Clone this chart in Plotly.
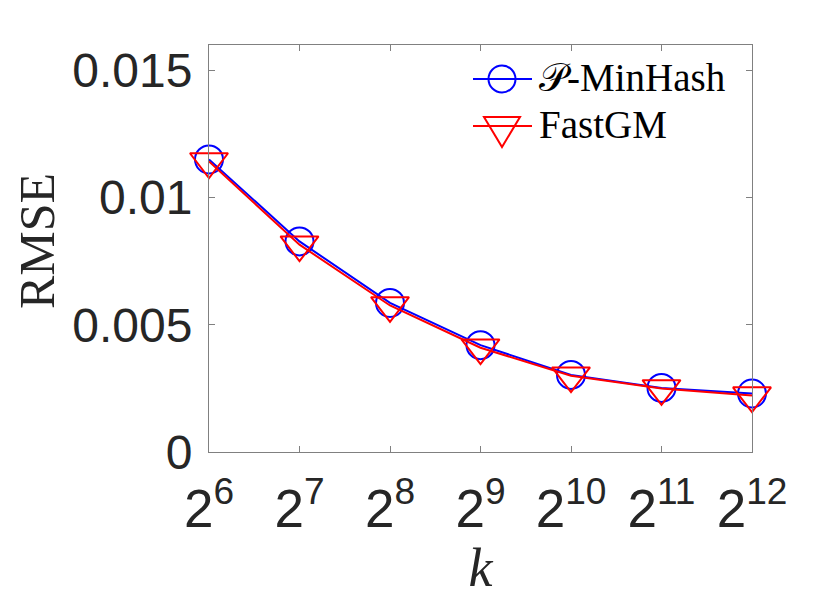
import math
import plotly.graph_objects as go

# sketch size k and RMSE
k_values = [64, 128, 256, 512, 1024, 2048, 4096]
k_labels = ["2<sup>6</sup>", "2<sup>7</sup>", "2<sup>8</sup>", "2<sup>9</sup>",
            "2<sup>10</sup>", "2<sup>11</sup>", "2<sup>12</sup>"]
pminhash_rmse = [0.01150, 0.00828, 0.00586, 0.00420, 0.00303, 0.00252, 0.00230]
fastgm_rmse = [0.01142, 0.00815, 0.00576, 0.00410, 0.00300, 0.00250, 0.00222]

y_ticks = [0, 0.005, 0.01, 0.015]
y_labels = ["0", "0.005", "0.01", "0.015"]

series_names = ["\U0001D4AB-MinHash", "FastGM"]
series_colors = ["#0000ff", "#ff0000"]

AXIS_GRAY = "#808080"
TEXT = "#262626"

# plot area in pixels (page body adds an 8px offset)
PW, PH = 543, 407


def px_x(p):
    return p / PW


def px_y(p):
    return p / PH


fig = go.Figure()
fig.add_trace(go.Scatter(
    x=k_values, y=pminhash_rmse, name=series_names[0],
    mode="lines+markers", cliponaxis=False,
    line=dict(color=series_colors[0], width=2),
    marker=dict(symbol="circle-open", size=28, color=series_colors[0], line=dict(width=2)),
))
fig.add_trace(go.Scatter(
    x=k_values, y=fastgm_rmse, name=series_names[1],
    mode="lines+markers", cliponaxis=False,
    line=dict(color=series_colors[1], width=2),
    marker=dict(symbol="triangle-down-open", size=33, color=series_colors[1], line=dict(width=2)),
))

# hand-drawn legend (plotly clamps legend marker sizes)
lx0, lx1, lxc, ltext = px_x(264), px_x(323), px_x(293), px_x(328)
row_y = [1 - px_y(34), 1 - px_y(81)]
shapes = []
annotations = []
for i, (name, col) in enumerate(zip(series_names, series_colors)):
    yy = row_y[i]
    shapes.append(dict(type="line", xref="paper", yref="paper",
                       x0=lx0, x1=lx1, y0=yy, y1=yy, line=dict(color=col, width=2)))
    annotations.append(dict(text=name, xref="paper", yref="paper", x=ltext, y=yy + px_y(2),
                            xanchor="left", yanchor="middle", showarrow=False,
                            font=dict(family="Liberation Serif", size=39, color="black")))
r = 13.5
shapes.append(dict(type="circle", xref="paper", yref="paper",
                   x0=lxc - px_x(r), x1=lxc + px_x(r),
                   y0=row_y[0] - px_y(r), y1=row_y[0] + px_y(r),
                   line=dict(color=series_colors[0], width=2)))
# triangle: top edge 9px above, apex 21px below the row line, 36px wide
tx0, tx1 = lxc - px_x(18), lxc + px_x(18)
ty_top, ty_apex = row_y[1] + px_y(9), row_y[1] - px_y(21)
shapes.append(dict(type="path", xref="paper", yref="paper",
                   path=f"M {tx0},{ty_top} L {tx1},{ty_top} L {lxc},{ty_apex} Z",
                   line=dict(color=series_colors[1], width=2)))

# y-axis title as rotated annotation, to place it like the original
annotations.append(dict(text="RMSE", xref="paper", yref="paper",
                        x=px_x(-172), y=px_y(211), textangle=-90,
                        xanchor="center", yanchor="middle", showarrow=False,
                        borderpad=0,
                        font=dict(family="Liberation Serif", size=50, color=TEXT)))

fig.update_layout(
    width=830, height=609,
    margin=dict(l=201, r=86, t=37, b=165),
    plot_bgcolor="white", paper_bgcolor="white",
    showlegend=False,
    shapes=shapes, annotations=annotations,
)
fig.update_xaxes(
    type="log", automargin=False,
    range=[math.log10(k_values[0]) - 1e-6, math.log10(k_values[-1]) + 1e-6],
    tickvals=k_values, ticktext=k_labels,
    ticks="inside", ticklen=6, tickcolor=AXIS_GRAY,
    showline=True, linecolor=AXIS_GRAY, linewidth=1, mirror="ticks",
    showgrid=False, zeroline=False,
    tickfont=dict(family="Liberation Sans", size=53, color=TEXT),
    ticklabelstandoff=10,
    title=dict(text="<i>k</i>", font=dict(family="Liberation Serif", size=54, color=TEXT), standoff=2),
)
fig.update_yaxes(
    range=[0, 0.016], automargin=False,
    tickvals=y_ticks, ticktext=y_labels,
    ticks="inside", ticklen=6, tickcolor=AXIS_GRAY,
    showline=True, linecolor=AXIS_GRAY, linewidth=1, mirror="ticks",
    showgrid=False, zeroline=False,
    tickfont=dict(family="Liberation Sans", size=48, color=TEXT),
    ticklabelstandoff=6,
)

fig.write_html("out.html")
